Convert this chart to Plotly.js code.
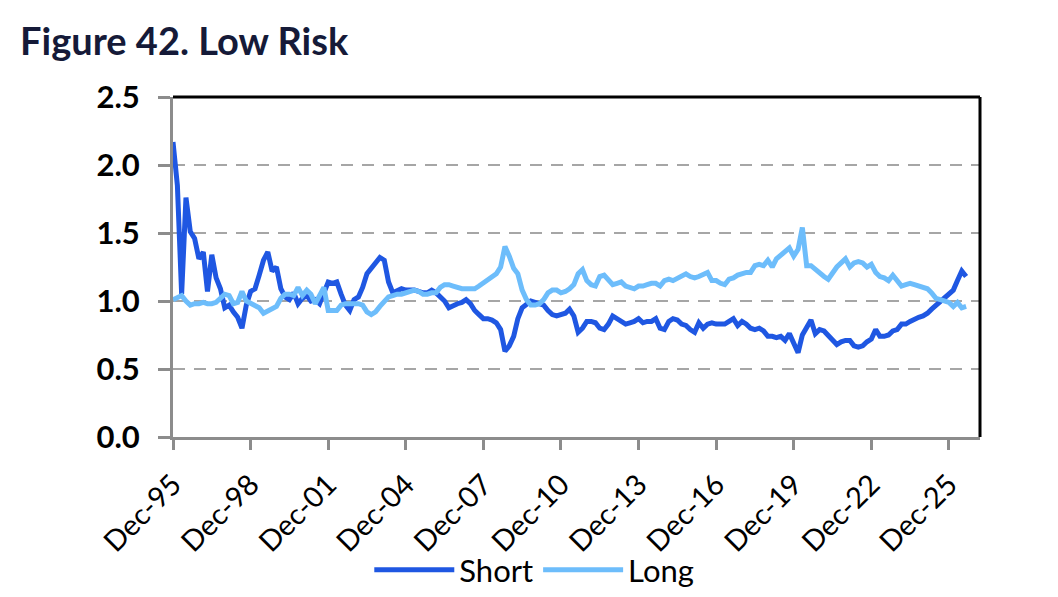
<!DOCTYPE html>
<html>
<head>
<meta charset="utf-8">
<script src="https://cdn.plot.ly/plotly-3.0.1.min.js"></script>
<style>
  html, body { margin: 0; padding: 0; background: #fff; }
  #chart { width: 1058px; height: 597px; }
</style>
</head>
<body>
<div id="chart"></div>
<script>
// bi-monthly readings, starting Dec-95
const startYear = 1995;
const startMonth = 12;
const stepMonths = 2;

const shortVals = [
  2.17, 1.85, 1.05, 1.76, 1.51, 1.46, 1.31, 1.36, 1.07, 1.34,
  1.17, 1.09, 0.95, 0.97, 0.92, 0.88, 0.80, 0.97, 1.07, 1.09,
  1.19, 1.30, 1.36, 1.22, 1.25, 1.09, 1.03, 1.01, 1.06, 0.98,
  1.02, 1.04, 1.00, 1.01, 0.98, 1.06, 1.14, 1.13, 1.14, 1.05,
  0.97, 0.93, 1.01, 1.03, 1.10, 1.20, 1.24, 1.29, 1.32, 1.30,
  1.14, 1.06, 1.08, 1.09, 1.08, 1.08, 1.08, 1.07, 1.06, 1.06,
  1.08, 1.06, 1.03, 1.00, 0.95, 0.97, 0.98, 0.99, 1.01, 0.98,
  0.93, 0.90, 0.87, 0.87, 0.86, 0.84, 0.79, 0.63, 0.67, 0.74,
  0.87, 0.95, 0.98, 1.00, 0.99, 0.98, 0.97, 0.93, 0.90, 0.89,
  0.90, 0.91, 0.94, 0.89, 0.77, 0.80, 0.85, 0.85, 0.84, 0.80,
  0.79, 0.83, 0.89, 0.87, 0.85, 0.83, 0.84, 0.85, 0.87, 0.84,
  0.85, 0.85, 0.87, 0.80, 0.79, 0.85, 0.87, 0.86, 0.83, 0.82,
  0.79, 0.77, 0.84, 0.80, 0.83, 0.84, 0.83, 0.83, 0.83, 0.85,
  0.87, 0.82, 0.85, 0.83, 0.80, 0.79, 0.80, 0.78, 0.74, 0.74,
  0.73, 0.74, 0.71, 0.76, 0.70, 0.62, 0.75, 0.80, 0.86, 0.76,
  0.79, 0.78, 0.75, 0.71, 0.68, 0.70, 0.71, 0.71, 0.67, 0.66,
  0.67, 0.70, 0.72, 0.79, 0.74, 0.74, 0.75, 0.78, 0.79, 0.83,
  0.83, 0.85, 0.87, 0.88, 0.89, 0.91, 0.94, 0.97, 1.00, 1.02,
  1.05, 1.08, 1.15, 1.22, 1.18
];

const longVals = [
  1.01, 1.03, 1.04, 1.00, 0.97, 0.98, 0.98, 0.99, 0.98, 0.98,
  0.99, 1.02, 1.05, 1.04, 0.98, 0.99, 1.07, 1.00, 0.98, 0.97,
  0.95, 0.91, 0.93, 0.95, 0.96, 1.02, 1.05, 1.05, 1.04, 1.10,
  1.04, 1.08, 1.05, 0.98, 1.04, 1.10, 0.93, 0.93, 0.93, 0.97,
  0.98, 0.98, 0.98, 0.98, 0.97, 0.92, 0.90, 0.92, 0.96, 1.00,
  1.03, 1.04, 1.05, 1.05, 1.06, 1.07, 1.08, 1.07, 1.05, 1.05,
  1.06, 1.06, 1.10, 1.12, 1.12, 1.11, 1.10, 1.09, 1.09, 1.09,
  1.09, 1.11, 1.13, 1.15, 1.17, 1.20, 1.25, 1.40, 1.33, 1.24,
  1.20, 1.08, 1.01, 0.97, 0.97, 0.98, 1.01, 1.06, 1.08, 1.08,
  1.06, 1.07, 1.09, 1.12, 1.20, 1.23, 1.15, 1.12, 1.11, 1.18,
  1.19, 1.15, 1.12, 1.13, 1.14, 1.11, 1.10, 1.09, 1.11, 1.11,
  1.12, 1.13, 1.13, 1.11, 1.15, 1.16, 1.15, 1.17, 1.18, 1.20,
  1.18, 1.17, 1.18, 1.20, 1.21, 1.15, 1.15, 1.13, 1.12, 1.16,
  1.17, 1.19, 1.20, 1.21, 1.21, 1.26, 1.27, 1.26, 1.30, 1.25,
  1.31, 1.34, 1.37, 1.39, 1.33, 1.38, 1.54, 1.26, 1.26, 1.23,
  1.21, 1.18, 1.16, 1.21, 1.25, 1.28, 1.31, 1.25, 1.28, 1.29,
  1.28, 1.25, 1.27, 1.21, 1.18, 1.17, 1.15, 1.19, 1.15, 1.11,
  1.12, 1.13, 1.12, 1.11, 1.10, 1.09, 1.06, 1.02, 1.01, 1.00,
  0.99, 0.96, 0.99, 0.95, 0.96
];

const yTicks = [0, 0.5, 1.0, 1.5, 2.0, 2.5];

function monthDate(i) {
  const total = (startYear * 12 + startMonth - 1) + i * stepMonths;
  const y = Math.floor(total / 12);
  const m = total % 12 + 1;
  return y + "-" + String(m).padStart(2, "0") + "-01";
}
const dates = shortVals.map((_, i) => monthDate(i));

const traces = [
  {
    x: dates, y: shortVals, name: "Short", type: "scatter", mode: "lines",
    line: { color: "#1f57e2", width: 5 }
  },
  {
    x: dates, y: longVals, name: "Long", type: "scatter", mode: "lines",
    line: { color: "#6dbdfb", width: 5 }
  }
];

const layout = {
  width: 1058,
  height: 597,
  margin: { l: 173, r: 78, t: 97, b: 160 },
  paper_bgcolor: "#fff",
  plot_bgcolor: "#fff",
  font: { family: "Lato, 'DejaVu Sans', sans-serif", color: "#000" },
  title: {
    text: "<b>Figure 42. Low Risk</b>",
    font: { family: "Lato, sans-serif", size: 38, color: "#151a38" },
    xref: "container", yref: "container",
    x: 0.019, xanchor: "left", y: 0.93, yanchor: "middle"
  },
  xaxis: {
    type: "date",
    range: ["1995-12-01", "2027-02-13"],
    tick0: "1995-12-01",
    dtick: "M36",
    tickformat: "%b-%y",
    tickangle: -45,
    tickfont: { size: 29, color: "#000" },
    ticks: "outside", ticklen: 10, tickwidth: 3, tickcolor: "#8c8c8c",
    ticklabelstandoff: 6,
    showline: true, linecolor: "#8c8c8c", linewidth: 3,
    showgrid: false, zeroline: false, automargin: false
  },
  yaxis: {
    range: [0, 2.5],
    tickvals: yTicks,
    tickformat: ".1f",
    tickfont: { size: 31, color: "#000", weight: "bold" },
    ticks: "outside", ticklen: 12, tickwidth: 3, tickcolor: "#8c8c8c",
    ticklabelstandoff: 12,
    showline: true, linecolor: "#8c8c8c", linewidth: 3,
    showgrid: true, gridcolor: "#a6a6a6", gridwidth: 2.5, griddash: "12px,9px",
    zeroline: false, automargin: false
  },
  shapes: [
    { type: "line", xref: "paper", yref: "paper", x0: 0, x1: 1, y0: 1, y1: 1,
      line: { color: "#000", width: 3 } },
    { type: "line", xref: "paper", yref: "paper", x0: 1, x1: 1, y0: 0, y1: 1,
      line: { color: "#000", width: 3 } }
  ],
  showlegend: true,
  legend: {
    orientation: "h",
    xref: "container", yref: "container",
    x: 0.505, xanchor: "center",
    y: 0.045, yanchor: "middle",
    font: { size: 31, color: "#000" },
    itemwidth: 80,
    bgcolor: "rgba(0,0,0,0)"
  }
};

Plotly.newPlot("chart", traces, layout, { displayModeBar: false, staticPlot: true });
</script>
</body>
</html>
